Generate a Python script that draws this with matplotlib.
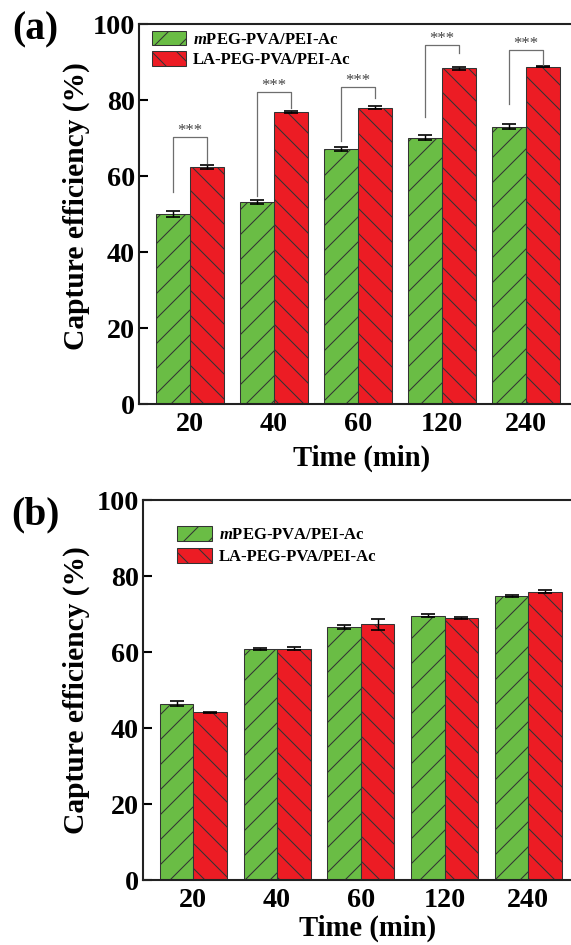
"""Capture efficiency of mPEG-PVA/PEI-Ac vs LA-PEG-PVA/PEI-Ac over time, panels (a) and (b)."""

# 3rd party libraries
import numpy as np
from matplotlib import pyplot as plt

# data
time_labels = ['20', '40', '60', '120', '240']

a_mpeg = [50.0, 53.2, 67.2, 70.1, 73.0]
a_mpeg_err = [0.8, 0.5, 0.5, 0.6, 0.6]
a_la = [62.4, 76.8, 78.0, 88.3, 88.8]
a_la_err = [0.6, 0.2, 0.4, 0.3, 0.2]

b_mpeg = [46.4, 60.8, 66.5, 69.6, 74.7]
b_mpeg_err = [0.7, 0.3, 0.5, 0.3, 0.2]
b_la = [44.1, 60.9, 67.3, 69.0, 75.9]
b_la_err = [0.2, 0.4, 1.4, 0.3, 0.3]

# significance brackets of panel (a): top, bottom of left leg, bottom of right leg
a_bracket_top = [70.3, 82.2, 83.5, 94.5, 93.2]
a_bracket_left = [55.9, 54.7, 69.2, 75.6, 78.9]
a_bracket_right = [63.3, 77.8, 80.4, 92.3, 89.2]
a_bracket_text = ['***'] * 5

label_mpeg = r'$\mathbfit{m}$PEG-PVA/PEI-Ac'
label_la = 'LA-PEG-PVA/PEI-Ac'

# plot settings
plt.rcParams['font.family'] = ['Liberation Serif', 'DejaVu Serif']
plt.rcParams['font.weight'] = 'bold'
plt.rcParams['axes.labelweight'] = 'bold'
plt.rcParams['mathtext.fontset'] = 'custom'
plt.rcParams['mathtext.bfit'] = 'Liberation Serif:bold:italic'
plt.rcParams['hatch.linewidth'] = 0.5
plt.rcParams['hatch.color'] = '#2a2a2a'

green = '#6abd45'
red = '#ec1c24'
edge = '#333333'

DPI = 150
fig = plt.figure(figsize=(571 / DPI, 945 / DPI), dpi=DPI)

ax_a = fig.add_axes([139 / 571, 1 - 404 / 945, (575 - 139) / 571, 380 / 945])
ax_b = fig.add_axes([143 / 571, 1 - 880 / 945, (575 - 143) / 571, 380 / 945])

panels = [
    (ax_a, a_mpeg, a_mpeg_err, a_la, a_la_err, (-0.607, 4.583)),
    (ax_b, b_mpeg, b_mpeg_err, b_la, b_la_err, (-0.60, 4.558)),
]

x = np.arange(len(time_labels))
width = 0.4

for ax, mpeg, mpeg_err, la, la_err, xlim in panels:
    ax.bar(x - width / 2, mpeg, width, color=green, edgecolor=edge, linewidth=0.5,
           hatch='//', label=label_mpeg, zorder=2)
    ax.bar(x + width / 2, la, width, color=red, edgecolor=edge, linewidth=0.5,
           hatch='\\\\', label=label_la, zorder=2)
    ax.errorbar(x - width / 2, mpeg, yerr=mpeg_err, fmt='none', ecolor='black',
                elinewidth=0.7, capsize=3.2, capthick=0.8, zorder=3)
    ax.errorbar(x + width / 2, la, yerr=la_err, fmt='none', ecolor='black',
                elinewidth=0.7, capsize=3.2, capthick=0.8, zorder=3)

    ax.set_xlim(*xlim)
    ax.set_ylim(0, 100)
    ax.set_yticks([0, 20, 40, 60, 80, 100])
    ax.set_xticks(x)
    ax.set_xticklabels(time_labels)
    ax.tick_params(axis='y', direction='in', length=4.3, width=1, labelsize=13.5, pad=2)
    ax.tick_params(axis='x', length=0, labelsize=13.5, pad=4)
    for side in ['left', 'bottom', 'top']:
        ax.spines[side].set_linewidth(1)
        ax.spines[side].set_color('#222222')
    ax.spines['right'].set_visible(False)
    ax.set_xlabel('Time (min)', fontsize=13.8, fontweight='bold', va='center')
    ax.set_ylabel('Capture efficiency (%)', fontsize=14.2, fontweight='bold', va='center')

ax_a.xaxis.set_label_coords(0.51, -0.142)
ax_a.yaxis.set_label_coords(-0.1445, 0.52)
ax_b.xaxis.set_label_coords(0.519, -0.126)
ax_b.yaxis.set_label_coords(-0.155, 0.5)

# significance brackets in panel (a)
for i in range(len(time_labels)):
    xl = x[i] - width / 2
    xr = x[i] + width / 2
    ax_a.plot([xl, xl, xr, xr],
              [a_bracket_left[i], a_bracket_top[i], a_bracket_top[i], a_bracket_right[i]],
              color='#6e6e6e', linewidth=0.6, zorder=4)
    ax_a.text(x[i], a_bracket_top[i] + 0.4, a_bracket_text[i], ha='center', va='baseline',
              fontsize=8, fontweight='normal', color='#444444')

ax_a.legend(loc='upper left', bbox_to_anchor=(152 / 571, 1 - 31 / 945), bbox_transform=fig.transFigure,
            frameon=False, fontsize=8.0, handlelength=2.05, handleheight=0.95,
            handletextpad=0.4, labelspacing=0.2, borderpad=0, borderaxespad=0)
ax_b.legend(loc='upper left', bbox_to_anchor=(177 / 571, 1 - 526 / 945), bbox_transform=fig.transFigure,
            frameon=False, fontsize=8.0, handlelength=2.1, handleheight=1.0,
            handletextpad=0.4, labelspacing=0.3, borderpad=0, borderaxespad=0)

fig.text(35 / 571, 1 - 30 / 945, '(a)', fontsize=19, ha='center', va='center')
fig.text(35 / 571, 1 - 515 / 945, '(b)', fontsize=19, ha='center', va='center')

fig.savefig('out.png', dpi=DPI)
